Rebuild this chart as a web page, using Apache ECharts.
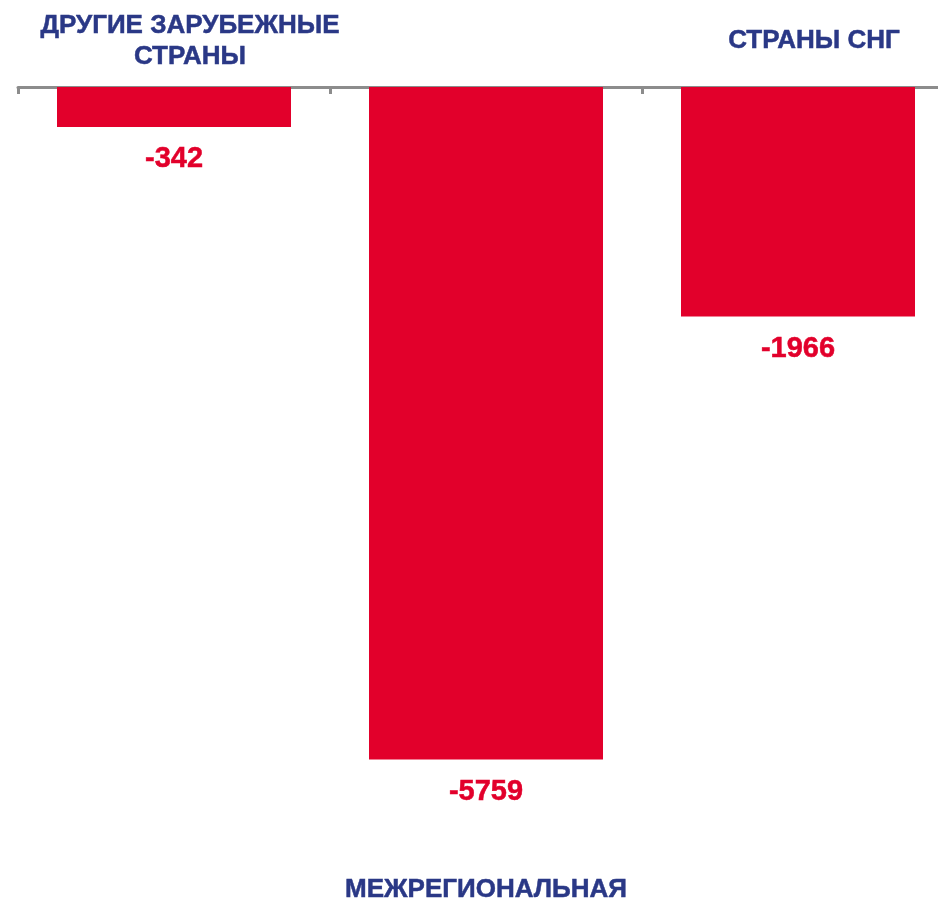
<!DOCTYPE html>
<html>
<head>
<meta charset="utf-8">
<script src="https://cdn.jsdelivr.net/npm/echarts@6/dist/echarts.min.js"></script>
<style>
  html, body { margin: 0; padding: 0; background: #fff; }
  #chart { width: 938px; height: 899px; }
</style>
</head>
<body>
<div id="chart"></div>
<script>
// categories and values
const categories = ["ДРУГИЕ ЗАРУБЕЖНЫЕ\nСТРАНЫ", "МЕЖРЕГИОНАЛЬНАЯ", "СТРАНЫ СНГ"];
const values = [-342, -5759, -1966];
// which labels sit above the axis, which below
const topLabels = [true, false, true];

const RED = "#e2002b";
const NAVY = "#2a3886";
const FONT = "'Liberation Sans', Arial, sans-serif";

const chart = echarts.init(document.getElementById("chart"));

const labelStyle = {
  color: NAVY,
  fontFamily: FONT,
  fontWeight: "bold",
  fontSize: 26,
  lineHeight: 31,
  verticalAlign: "middle",
  textBorderColor: NAVY,
  textBorderWidth: 0.5
};

chart.setOption({
  animation: false,
  // the plot runs past the right edge of the picture (last category is cut)
  grid: {
    left: 18, width: 936, top: 87, bottom: 53,
    containLabel: false, outerBoundsMode: "none"
  },
  xAxis: [
    {
      type: "category",
      data: categories,
      position: "top",
      axisLine: { onZero: false, lineStyle: { color: "#8c8c8c", width: 3 } },
      axisTick: { show: true, inside: true, length: 7, lineStyle: { color: "#8c8c8c", width: 3 } },
      axisLabel: Object.assign({}, labelStyle, {
        margin: 46,
        padding: [0, 0, 0, 32],
        interval: 0,
        formatter: function (v, i) { return topLabels[i] ? v : ""; }
      })
    },
    {
      type: "category",
      data: categories,
      position: "bottom",
      axisLine: { show: false, onZero: false },
      axisTick: { show: false },
      axisLabel: Object.assign({}, labelStyle, {
        margin: 44,
        interval: 0,
        formatter: function (v, i) { return topLabels[i] ? "" : v; }
      })
    }
  ],
  yAxis: {
    type: "value",
    min: -6500,
    max: 0,
    show: false,
    splitLine: { show: false }
  },
  series: [
    {
      type: "bar",
      xAxisIndex: 0,
      data: values,
      barCategoryGap: "25%",
      itemStyle: { color: RED },
      label: {
        show: true,
        position: "bottom",
        distance: 18,
        color: RED,
        fontFamily: FONT,
        fontWeight: "bold",
        fontSize: 29,
        textBorderColor: RED,
        textBorderWidth: 0.5
      }
    }
  ]
});
</script>
</body>
</html>
